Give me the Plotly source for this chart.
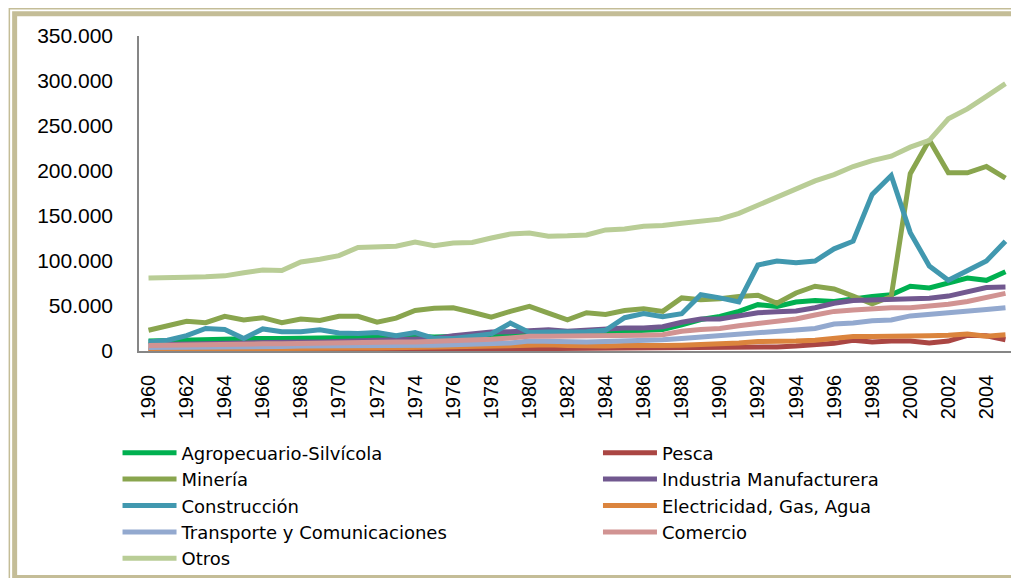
import plotly.graph_objects as go

years = [str(y) for y in range(1960, 2006)]

agropecuario = [11, 11.5, 12, 13, 14, 14, 14, 14, 14, 14.5, 14, 15, 15.5, 16, 16.5, 15.5, 16, 16.5, 17, 18,
                18.5, 19, 19, 20, 21, 22, 23, 24, 29, 35, 38.5, 44, 51.5, 49.5, 54.5, 56, 55, 58, 60.5, 62.5,
                72, 70, 75.5, 81, 78.5, 88]
pesca = [1, 1, 1, 1, 1, 1, 1.2, 1.2, 1.2, 1.3, 1.5, 1.5, 1.6, 1.7, 1.8, 2, 2, 2.2, 2.3, 2.4,
         2.5, 2.6, 2.6, 2.7, 2.8, 3, 3, 3, 3, 3, 3, 3.5, 4, 4.5, 5.5, 7, 8.5, 12, 10, 11,
         11, 9, 11, 17.5, 17, 12.5]
mineria = [23, 28, 33, 31.5, 38.5, 34.5, 37, 31.5, 35.5, 34, 38.5, 38.5, 32, 36.5, 45, 47.5, 48, 43, 37.5, 44,
           49.5, 42, 34.5, 42.5, 40.5, 45, 47, 44, 59, 57, 58, 60.5, 62, 53, 64.5, 72, 69, 61, 52.5, 60.5,
           197, 234.5, 198, 198, 205, 192]
industria = [7, 7.5, 8, 8.5, 9, 9, 9.5, 9.5, 10, 10, 10.5, 11, 11.5, 12, 12.5, 14, 17, 19.5, 21, 21.5,
             22.5, 23.5, 22, 23, 25, 25.5, 25.5, 27, 32, 35.5, 35.5, 39, 42.5, 43.5, 44.5, 48, 53, 56, 56.5, 56.5,
             57, 58.5, 61, 66, 70.5, 71]
construccion = [10, 12, 17, 25, 24, 14, 24.5, 21.5, 21.5, 23.5, 20, 19.5, 20.5, 17, 20.5, 14, 14, 16, 19, 31,
                20.5, 21, 21, 21.5, 23, 37, 41.5, 38, 41.5, 62.5, 59, 54.5, 95.5, 100, 98, 100, 113.5, 122, 174, 195,
                131.5, 94.5, 78.5, 89, 100, 122]
electricidad = [2, 2, 2.2, 2.3, 2.4, 2.5, 2.6, 2.7, 2.8, 2.9, 3, 3.2, 3.4, 3.6, 3.8, 4, 4.3, 4.6, 5, 5.8,
                6.5, 7, 6, 5.5, 5.5, 6, 5.5, 6, 6.5, 7, 7.5, 9, 10.5, 10.5, 11, 12, 13.5, 16, 16, 16,
                17, 17, 17.5, 19, 16.5, 18]
transporte = [4, 4, 4.5, 4.5, 5, 5, 5, 5, 5.5, 5.5, 5.5, 6, 6, 6.5, 6.5, 6.5, 7, 7.5, 8, 9,
              11, 10.5, 10, 10, 10.5, 11, 11.5, 12.5, 14, 15.5, 17, 18.5, 19.5, 21, 22.5, 25, 30, 31, 33.5, 34.5,
              39, 40.5, 42, 43.5, 46, 48]
comercio = [6, 6.5, 7, 7, 7.5, 7.5, 8, 8, 8.5, 8.5, 9, 9.5, 10, 10, 10, 10.5, 11, 12, 13, 14.5,
            16.5, 16.5, 16.5, 16.5, 17, 17.5, 17.5, 18, 22, 24, 25, 28, 30.5, 32.5, 35.5, 40, 44, 45.5, 47, 48,
            48, 49.5, 52, 55, 60, 64]
otros = [81, 82, 82, 82.5, 83.5, 87, 90, 89.5, 99, 102, 106, 115, 116, 116.5, 121, 117, 120, 120.5, 125.5, 130,
         131, 127.5, 128, 129, 134.5, 135.5, 138.5, 139.5, 142, 144.5, 146.5, 153, 162, 170, 179.5, 189, 196, 205, 211.5, 216.5,
         226.5, 234, 258, 269, 283, 297]

series = [
    ("Agropecuario-Silvícola", agropecuario, "#00B050", "legend"),
    ("Pesca", pesca, "#AA4643", "legend2"),
    ("Minería", mineria, "#89A54E", "legend"),
    ("Industria Manufacturera", industria, "#71588F", "legend2"),
    ("Construcción", construccion, "#4198AF", "legend"),
    ("Electricidad, Gas, Agua", electricidad, "#DB843D", "legend2"),
    ("Transporte y Comunicaciones", transporte, "#93A9CF", "legend"),
    ("Comercio", comercio, "#D19392", "legend2"),
    ("Otros", otros, "#B9CD96", "legend"),
]

# The page places the figure 8 px in from the top-left corner (body margin),
# so the figure is laid out in page coordinates minus OFF.
OFF = 8
W, H = 1019 - OFF, 578 - OFF
L, R, T, B = 138.5 - OFF, 1015.5 - OFF, 36 - OFF, 351 - OFF
pw, ph = R - L, B - T


def px_x(p):
    """page pixel x -> paper x"""
    return (p - OFF - L) / pw


def px_y(p):
    """page pixel y -> paper y"""
    return (B - (p - OFF)) / ph


fig = go.Figure()
for name, vals, color, lg in series:
    fig.add_trace(go.Scatter(
        x=years, y=[v * 1000 for v in vals], name=name, mode="lines",
        line=dict(color=color, width=5), legend=lg, hoverinfo="x+y+name"))

legend_common = dict(
    orientation="v", xanchor="left", yanchor="top",
    font=dict(family="DejaVu Sans", size=18, color="#000000"),
    bgcolor="rgba(0,0,0,0)", borderwidth=0, itemwidth=54,
    tracegroupgap=0, traceorder="normal",
)

frame = "#C4BD97"
shapes = [
    dict(type="rect", xref="paper", yref="paper",
         x0=px_x(8.7), y0=px_y(8.7), x1=px_x(1040), y1=px_y(590),
         line=dict(color=frame, width=1.5), fillcolor="rgba(0,0,0,0)", layer="below"),
    dict(type="rect", xref="paper", yref="paper",
         x0=px_x(14), y0=px_y(13.8), x1=px_x(1045), y1=px_y(577.5),
         line=dict(color=frame, width=5), fillcolor="rgba(0,0,0,0)", layer="below"),
]

fig.update_layout(
    width=W, height=H,
    margin=dict(l=L, r=W - R, t=T, b=H - B, autoexpand=False),
    paper_bgcolor="white", plot_bgcolor="white",
    separators=",.",
    showlegend=True,
    legend=dict(x=px_x(117), y=px_y(434.5), **legend_common),
    legend2=dict(x=px_x(598), y=px_y(434.5), **legend_common),
    shapes=shapes,
    xaxis=dict(type="category", range=[-0.5, 45.5], dtick=2, tick0=0,
               tickangle=-90, showgrid=False, zeroline=False,
               showline=True, linecolor="#868686", linewidth=1.5,
               ticks="", ticklabelstandoff=14,
               tickfont=dict(family="Liberation Sans", size=20, color="#000000")),
    yaxis=dict(range=[0, 350000], dtick=50000, tickformat=",d",
               showgrid=False, zeroline=False,
               showline=True, linecolor="#868686", linewidth=1.5,
               ticks="", ticklabelstandoff=20,
               tickfont=dict(family="Liberation Sans", size=21, color="#000000")),
)

fig.write_html("out.html")
